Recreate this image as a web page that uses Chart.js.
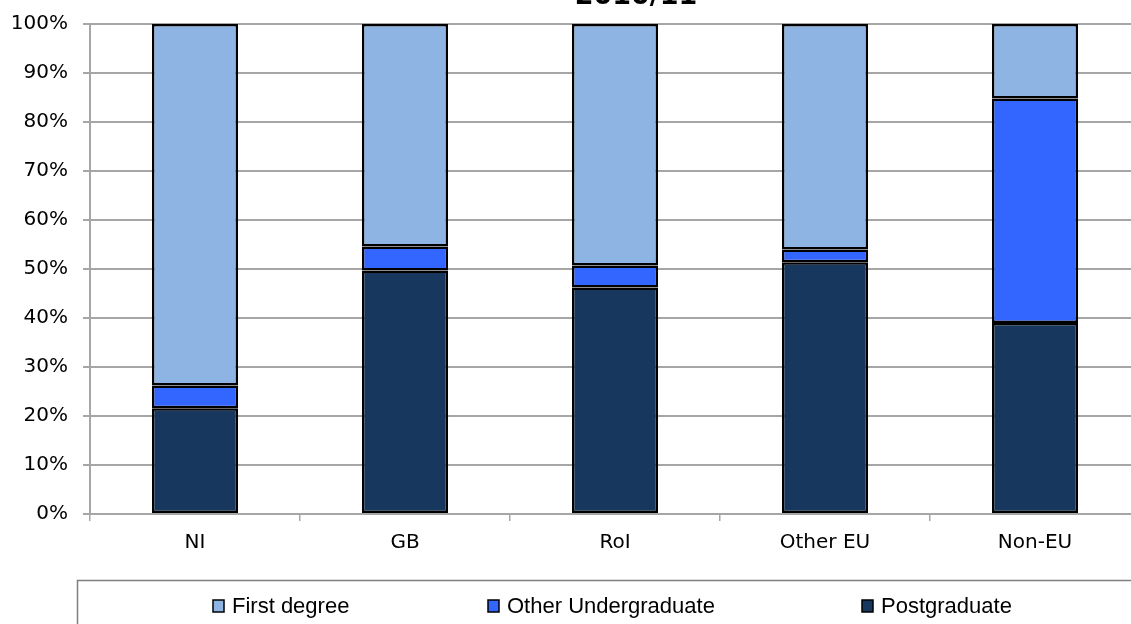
<!DOCTYPE html>
<html>
<head>
<meta charset="utf-8">
<script src="https://cdn.jsdelivr.net/npm/chart.js@4"></script>
<style>
  html, body { margin: 0; padding: 0; background: #fff; }
  #wrap { position: relative; width: 1131px; height: 624px; overflow: hidden; }
  #box { position: absolute; left: 0; top: -26px; width: 1150px; height: 680px; }
</style>
</head>
<body>
<div id="wrap"><div id="box"><canvas id="c" width="1150" height="680"></canvas></div></div>
<script>
// Share of enrolments by level of study, per domicile
const categories = ['NI', 'GB', 'RoI', 'Other EU', 'Non-EU'];
const postgraduate = [21.6, 49.7, 46.2, 51.4, 39.0];
const otherUndergraduate = [4.6, 4.9, 4.5, 2.6, 45.8];
const firstDegree = [73.8, 45.4, 49.3, 46.0, 15.2];
const yTickValues = [0, 10, 20, 30, 40, 50, 60, 70, 80, 90, 100];
const chartTitle = '2010/11';

const gridGray = '#a6a6a6';
const axisFont = { family: "'DejaVu Sans', sans-serif", size: 20 };

// Title line sitting above the plot
const titleLine = {
  id: 'titleLine',
  afterDraw(chart) {
    const ctx = chart.ctx;
    ctx.save();
    ctx.font = "bold 27px 'DejaVu Sans', sans-serif";
    ctx.fillStyle = '#000';
    ctx.textAlign = 'center';
    ctx.textBaseline = 'alphabetic';
    ctx.fillText(chartTitle, 636, 30);
    ctx.restore();
  }
};

// Boxed legend along the bottom, drawn from the datasets
const boxedLegend = {
  id: 'boxedLegend',
  afterDraw(chart) {
    const ctx = chart.ctx;
    ctx.save();
    ctx.strokeStyle = '#7f7f7f';
    ctx.lineWidth = 1.5;
    ctx.strokeRect(77.5, 606.5, 1200, 200);
    const starts = [213, 488, 862];
    const order = chart.data.datasets.slice().reverse();
    const cy = 632;
    ctx.font = "22px 'Liberation Sans', Arial, sans-serif";
    ctx.textBaseline = 'middle';
    ctx.textAlign = 'left';
    order.forEach((ds, i) => {
      const x = starts[i];
      ctx.fillStyle = ds.backgroundColor;
      ctx.fillRect(x, cy - 6, 11, 12);
      ctx.strokeStyle = '#000';
      ctx.lineWidth = 1.5;
      ctx.strokeRect(x, cy - 6, 11, 12);
      ctx.fillStyle = '#000';
      ctx.fillText(ds.label, x + 19, cy + 1);
    });
    ctx.restore();
  }
};

new Chart(document.getElementById('c'), {
  type: 'bar',
  data: {
    labels: categories,
    datasets: [
      { label: 'Postgraduate', data: postgraduate, backgroundColor: '#17375e' },
      { label: 'Other Undergraduate', data: otherUndergraduate, backgroundColor: '#3366ff' },
      { label: 'First degree', data: firstDegree, backgroundColor: '#8eb4e3' }
    ]
  },
  options: {
    responsive: false,
    animation: false,
    layout: { padding: { left: 0, right: 10, top: 50, bottom: 90 } },
    datasets: {
      bar: {
        categoryPercentage: 1,
        barPercentage: 0.41,
        borderColor: '#000',
        borderWidth: 2.5,
        borderSkipped: false
      }
    },
    plugins: {
      legend: { display: false },
      tooltip: { enabled: false },
      title: { display: false }
    },
    scales: {
      x: {
        stacked: true,
        offset: true,
        grid: { display: true, offset: true, drawOnChartArea: false, color: gridGray, lineWidth: 1.5, tickLength: 7 },
        border: { display: false },
        ticks: { color: '#000', font: axisFont, padding: 10 },
        afterFit(scale) { scale.height = 50; }
      },
      y: {
        stacked: true,
        min: 0,
        max: 100,
        afterBuildTicks(scale) { scale.ticks = yTickValues.map(v => ({ value: v })); },
        grid: { color: gridGray, lineWidth: 2, tickLength: 7 },
        border: { display: true, color: gridGray, width: 2 },
        ticks: { color: '#000', font: axisFont, padding: 15, callback: v => v + '%' },
        afterFit(scale) { scale.width = 90; }
      }
    }
  },
  plugins: [titleLine, boxedLegend]
});
</script>
</body>
</html>
